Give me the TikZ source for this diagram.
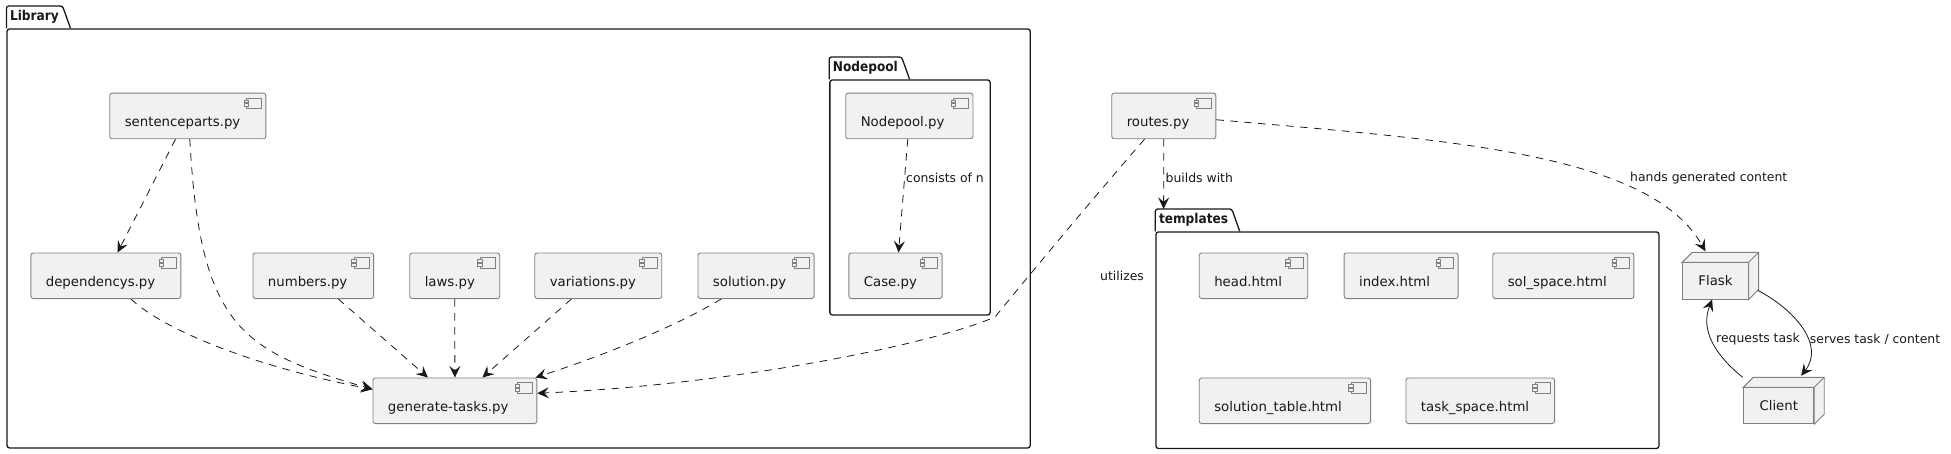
\documentclass[tikz,border=0pt]{standalone}
\usepackage{fontspec}
\setmainfont{DejaVu Sans}[BoldFont={DejaVu Sans Condensed Bold}]
\usetikzlibrary{arrows.meta}
\definecolor{ink}{HTML}{181818}
\definecolor{boxfill}{HTML}{F1F1F1}
\definecolor{boxline}{HTML}{808080}
\tikzset{
  compbox/.style={draw=boxline,fill=boxfill,line width=0.9pt,rounded corners=2.5pt,anchor=north west,
    text width=#1,align=left,inner xsep=15pt,inner ysep=0pt,minimum height=45.6pt,
    text height=24pt,text depth=3pt,font=\fontsize{13.3}{16}\selectfont,text=ink,
    path picture={
      \draw[boxline,line width=0.7pt,sharp corners,fill=boxfill]
        ([shift={(-4.7,-4.7)}]path picture bounding box.north east) rectangle ++(-15,-10.4);
      \draw[boxline,line width=0.7pt,sharp corners,fill=boxfill]
        ([shift={(-17.5,-6.8)}]path picture bounding box.north east) rectangle ++(-4.5,-2.6);
      \draw[boxline,line width=0.7pt,sharp corners,fill=boxfill]
        ([shift={(-17.5,-10.6)}]path picture bounding box.north east) rectangle ++(-4.5,-2.6);
    }},
  cubebox/.style={draw=boxline,fill=boxfill,line width=0.9pt,anchor=north west,inner sep=0pt,
    font=\fontsize{13.3}{16}\selectfont,text=ink},
  pkgbody/.style={draw=ink,line width=1.3pt,rounded corners=2.5pt,anchor=north west,inner sep=0pt},
  pkgtitle/.style={anchor=south west,inner xsep=3.5pt,inner ysep=0pt,minimum height=22pt,
    font=\fontsize{13.5}{15}\selectfont\bfseries,text=ink},
  edgelabel/.style={inner sep=0pt,anchor=west,font=\fontsize{12.4}{14}\selectfont,text=ink},
  depline/.style={ink,line width=0.8pt,dash pattern=on 7.5pt off 6.5pt,-{Stealth[length=11.5pt,width=11pt,inset=4.5pt]}},
  assocline/.style={ink,line width=0.8pt,-{Stealth[length=11.5pt,width=11pt,inset=4.5pt]}}
}
\begin{document}
\begin{tikzpicture}[x=1pt,y=1pt]
\useasboundingbox (0,0) rectangle (1951,-453);
\node[pkgbody,minimum width=1023.2pt,minimum height=419pt] (library) at (6.4,-28.3) {};
\node[pkgtitle] (libraryT) at (library.north west) {Library};
\draw[ink,line width=1.3pt,rounded corners=2.5pt] (libraryT.south west) -- (libraryT.north west) -- (libraryT.north east) -- ([xshift=8pt]libraryT.south east);
\node[pkgbody,minimum width=160.3pt,minimum height=235pt] (nodepool) at (829.2,-79.3) {};
\node[pkgtitle] (nodepoolT) at (nodepool.north west) {Nodepool};
\draw[ink,line width=1.3pt,rounded corners=2.5pt] (nodepoolT.south west) -- (nodepoolT.north west) -- (nodepoolT.north east) -- ([xshift=8pt]nodepoolT.south east);
\node[pkgbody,minimum width=503pt,minimum height=216.5pt] (templates) at (1155.3,-231.3) {};
\node[pkgtitle] (templatesT) at (templates.north west) {templates};
\draw[ink,line width=1.3pt,rounded corners=2.5pt] (templatesT.south west) -- (templatesT.north west) -- (templatesT.north east) -- ([xshift=8pt]templatesT.south east);
\node[compbox=126.1pt] (sent) at (109.3,-92.7) {sentenceparts.py};
\node[compbox=120pt] (dep) at (30.4,-252.5) {dependencys.py};
\node[compbox=90.7pt] (num) at (252.5,-252.5) {numbers.py};
\node[compbox=60pt] (laws) at (409.3,-252.5) {laws.py};
\node[compbox=97pt] (var) at (534.3,-252.5) {variations.py};
\node[compbox=86.1pt] (sol) at (697.5,-252.5) {solution.py};
\node[compbox=133.9pt] (gen) at (372.5,-377.5) {generate-tasks.py};
\node[compbox=97.2pt] (pool) at (845.3,-92.7) {Nodepool.py};
\node[compbox=63.3pt] (case) at (848.4,-252.5) {Case.py};
\node[compbox=74.1pt] (routes) at (1111.3,-92.7) {routes.py};
\node[compbox=78.5pt] (head) at (1198.8,-252.5) {head.html};
\node[compbox=84pt] (index) at (1343.6,-252.5) {index.html};
\node[compbox=111.1pt] (solsp) at (1492.3,-252.5) {sol\_space.html};
\node[compbox=141.4pt] (soltab) at (1198.8,-377.5) {solution\_table.html};
\node[compbox=118.7pt] (task) at (1405.5,-377.5) {task\_space.html};
\node[cubebox,minimum width=65.4pt,minimum height=36.4pt] (flask) at (1682.3,-262.3) {Flask};
\node[cubebox,minimum width=70pt,minimum height=36pt] (client) at (1743.3,-387.3) {Client};
\foreach \n in {flask,client} {
  \draw[draw=boxline,fill=boxfill,line width=0.9pt] (\n.north west) -- ++(10,10) -- ([shift={(10,10)}]\n.north east) -- ([shift={(10,10)}]\n.south east) -- (\n.south east) -- (\n.north east) -- cycle;
  \draw[boxline,line width=0.9pt] (\n.north east) -- ([shift={(10,10)}]\n.north east);
}
\draw[depline] ([xshift=-12.3pt]sent.south) -- ([xshift=11.7pt]dep.north);
\draw[depline] ([xshift=2pt]sent.south) .. controls (200,-326) and (240,-351) .. ([yshift=11.5pt]gen.west);
\draw[depline] ([xshift=25pt]dep.south) .. controls (170,-335) and (270,-370) .. ([yshift=11.5pt]gen.west);
\draw[depline] ([xshift=25pt]num.south) -- ([xshift=-27pt]gen.north);
\draw[depline] (laws.south) -- (gen.north);
\draw[depline] ([xshift=-26.8pt]var.south) -- ([xshift=27.5pt]gen.north);
\draw[depline] ([xshift=-34.8pt]sol.south) .. controls (670,-330) and (590,-360) .. ([xshift=-1.8pt]gen.north east);
\draw[depline] ([xshift=-1.6pt]pool.south) -- ([xshift=3pt]case.north);
\draw[depline] ([xshift=-19.3pt]routes.south) .. controls (1096,-195) and (1040,-262) .. (995,-317) .. controls (930,-345) and (730,-385) .. ([yshift=7.5pt]gen.east);
\draw[depline] (routes.south) -- ([xshift=8.3pt]templatesT.north west);
\draw[depline] ([yshift=-3.8pt]routes.east) .. controls (1450,-140) and (1650,-153) .. ([shift={(-10,11)}]flask.north);
\draw[assocline] ([shift={(9,9.4)}]flask.south east) .. controls (1795,-310) and (1825,-345) .. ([shift={(22.4,11.6)}]client.north);
\draw[assocline] ([shift={(-0.6,10)}]client.north west) .. controls (1715,-355) and (1700,-330) .. ([xshift=-3.3pt]flask.south);
\node[edgelabel] (consists) at (906,-177.7) {consists of n};
\node[edgelabel] (builds) at (1165.5,-177.7) {builds with};
\node[edgelabel] (hands) at (1630,-177.7) {hands generated content};
\node[edgelabel] (utilizes) at (1100,-275.7) {utilizes};
\node[edgelabel] (requests) at (1716,-339.3) {requests task};
\node[edgelabel] (serves) at (1809.7,-339.3) {serves task / content};
\end{tikzpicture}
\end{document}
